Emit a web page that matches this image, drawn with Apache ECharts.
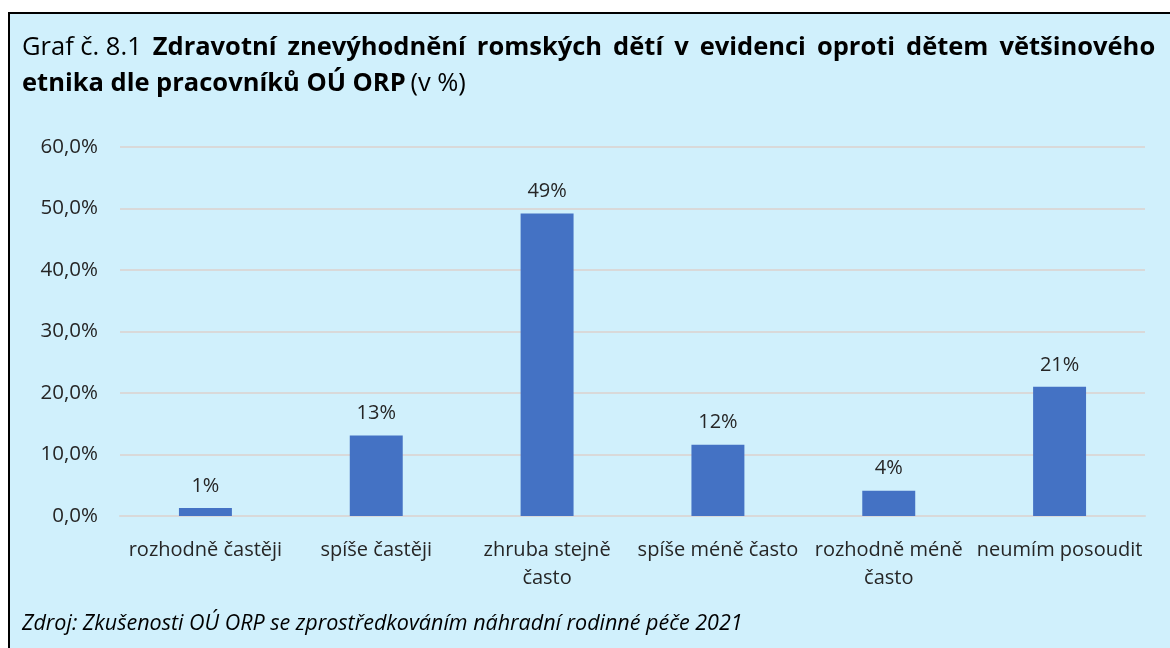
<!DOCTYPE html>
<html>
<head>
<meta charset="utf-8">
<script src="https://cdn.jsdelivr.net/npm/echarts@6/dist/echarts.min.js"></script>
<style>
  html, body { margin: 0; padding: 0; background: #fff; }
  #chart { width: 1170px; height: 648px; }
</style>
</head>
<body>
<div id="chart"></div>
<script>
// hodnocení pracovníků OÚ ORP
var categories = ['rozhodně častěji', 'spíše častěji', 'zhruba stejně\nčasto', 'spíše méně často', 'rozhodně méně\nčasto', 'neumím posoudit'];
var values = [1.3, 13.1, 49.2, 11.6, 4.1, 21.0];
var yTicks = [0, 10, 20, 30, 40, 50, 60];
var titleWords = ['Zdravotní', 'znevýhodnění', 'romských', 'dětí', 'v', 'evidenci', 'oproti', 'dětem', 'většinového'];

var font = '"Open Sans", "Noto Sans", sans-serif';

// první řádek titulku je v originále zarovnán do bloku
var line1 = '{n|Graf č. 8.1}{g| }' + titleWords.map(function (w) { return '{b|' + w + '}'; }).join('{g| }');

var chart = echarts.init(document.getElementById('chart'));
chart.setOption({
  animation: false,
  textStyle: { fontFamily: font },
  graphic: [{
    type: 'rect',
    z: -10,
    shape: { x: 9, y: 13, width: 1200, height: 700 },
    style: { fill: '#D0F0FC', stroke: '#000', lineWidth: 2 }
  }, {
    type: 'text',
    left: 22,
    top: 613,
    style: {
      text: 'Zdroj: Zkušenosti OÚ ORP se zprostředkováním náhradní rodinné péče 2021',
      font: 'italic 21.5px ' + font,
      fill: '#000'
    }
  }],
  title: {
    left: 17,
    top: 25,
    text: line1 + '\n{b|etnika dle pracovníků OÚ ORP} {n|(v %)}',
    textStyle: {
      rich: {
        n: { fontSize: 25.5, fontFamily: font, fontWeight: 'normal', color: '#000', lineHeight: 36 },
        b: { fontSize: 25.5, fontFamily: font, fontWeight: 'bold', color: '#000', lineHeight: 36 },
        g: { fontSize: 25, width: 11, lineHeight: 36 }
      }
    }
  },
  grid: { left: 120, right: 25, top: 147, bottom: 132 },
  xAxis: {
    type: 'category',
    data: categories,
    axisLine: { lineStyle: { color: '#D9D9D9', width: 2 } },
    axisTick: { show: false },
    axisLabel: { fontSize: 20, color: '#262626', margin: 20, lineHeight: 28, interval: 0 }
  },
  yAxis: {
    type: 'value',
    min: yTicks[0],
    max: yTicks[yTicks.length - 1],
    interval: 10,
    axisLine: { show: false },
    axisTick: { show: false },
    splitLine: { lineStyle: { color: '#D9D9D9', width: 2 } },
    axisLabel: {
      fontSize: 20.5, color: '#262626', margin: 22,
      formatter: function (v) { return v.toFixed(1).replace('.', ',') + '%'; }
    }
  },
  series: [{
    type: 'bar',
    data: values,
    barWidth: '31%',
    itemStyle: { color: '#4472C4' },
    label: {
      show: true,
      position: 'top',
      distance: 12,
      fontSize: 20,
      color: '#262626',
      formatter: function (p) { return Math.round(p.value) + '%'; }
    }
  }]
});
</script>
</body>
</html>
